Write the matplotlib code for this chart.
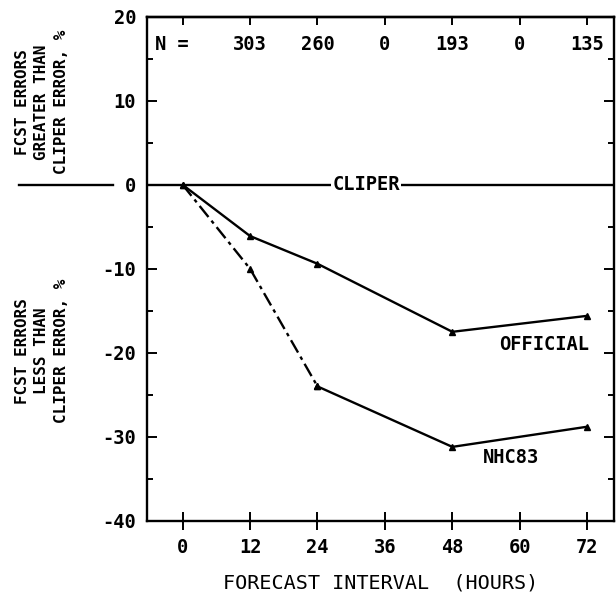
import numpy as np
import matplotlib
matplotlib.use('Agg')
import matplotlib.pyplot as plt
from matplotlib.ticker import MultipleLocator

# forecast hours and % difference from CLIPER
hours = [0, 12, 24, 48, 72]
official = [0, -6.1, -9.4, -17.5, -15.6]
nhc83 = [0, -10.0, -24.0, -31.2, -28.8]

n_hours = [12, 24, 36, 48, 60, 72]
n_cases = ['303', '260', '0', '193', '0', '135']
xticks = [0, 12, 24, 36, 48, 60, 72]

plt.rcParams['font.family'] = 'DejaVu Sans Mono'
plt.rcParams['font.weight'] = 'bold'
plt.rcParams['axes.unicode_minus'] = False

fig = plt.figure(figsize=(6.16, 6.0), dpi=100)
ax = fig.add_axes([0.239, 0.132, 0.758, 0.840])
ax.set_xlim(-6.3, 76.8)
ax.set_ylim(-40, 20)

lw = 1.7
ax.plot(hours, official, color='black', lw=lw, marker='^', ms=4.5)
ax.plot(hours[:3], nhc83[:3], color='black', lw=lw, ls=(0, (6, 2, 1.5, 2)), marker='^', ms=4.5)
ax.plot(hours[2:], nhc83[2:], color='black', lw=lw, marker='^', ms=4.5)

# CLIPER reference line, running out past the left axis
ax.plot([-6.3, 76.8], [0, 0], color='black', lw=lw)
ax.plot([-29.2, -12.4], [0, 0], color='black', lw=lw, clip_on=False)
ax.text(32.7, 0, 'CLIPER', ha='center', va='center', fontsize=13.5,
        bbox=dict(facecolor='white', edgecolor='none', pad=1))

ax.text(72.3, -19.0, 'OFFICIAL', ha='right', va='center', fontsize=13.5)
ax.text(53.5, -32.5, 'NHC83', ha='left', va='center', fontsize=13.5)

ax.text(-4.9, 16.7, 'N =', ha='left', va='center', fontsize=13.5)
for h, n in zip(n_hours, n_cases):
    ax.text(h, 16.7, n, ha='center', va='center', fontsize=13.5)

for s in ax.spines.values():
    s.set_linewidth(1.7)

ax.set_xticks(xticks)
ax.yaxis.set_major_locator(MultipleLocator(10))
ax.yaxis.set_minor_locator(MultipleLocator(5))
ax.tick_params(axis='x', direction='inout', length=13, width=1.4, labelsize=13.5, pad=6)
ax.tick_params(axis='y', which='major', direction='in', length=7, width=1.4, labelsize=13.5,
               pad=8, right=True)
ax.tick_params(axis='y', which='minor', direction='in', length=4, width=1.4, right=True)

top = ax.secondary_xaxis('top')
top.set_xticks(xticks)
top.tick_params(direction='in', length=6, width=1.4, labeltop=False)
top.spines['top'].set_linewidth(1.7)

ax.set_xlabel('FORECAST INTERVAL  (HOURS)', fontsize=14.5, labelpad=12)

fig.text(0.068, 0.83, 'FCST ERRORS\nGREATER THAN\nCLIPER ERROR, %', rotation=90,
         ha='center', va='center', multialignment='center', fontsize=11.5, linespacing=1.4)
fig.text(0.068, 0.415, 'FCST ERRORS\nLESS THAN\nCLIPER ERROR, %', rotation=90,
         ha='center', va='center', multialignment='center', fontsize=11.5, linespacing=1.4)

fig.savefig('out.png', dpi=100)
